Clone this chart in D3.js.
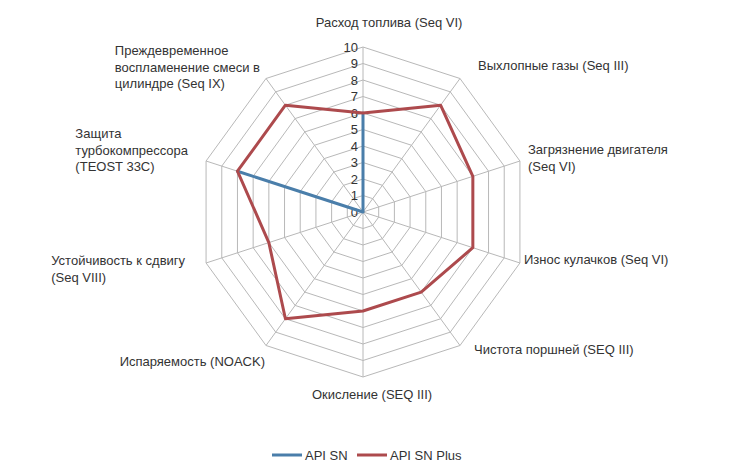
<!DOCTYPE html>
<html>
<head>
<meta charset="utf-8">
<script src="https://cdn.jsdelivr.net/npm/d3@7"></script>
<style>
  body { margin: 0; background: #fff; }
  svg { display: block; font-family: "Liberation Sans", Arial, sans-serif; }
</style>
</head>
<body>
<svg id="chart"></svg>
<script>
// axis labels, clockwise from top (one entry per text line)
const categories = [
  ["Расход топлива (Seq VI)"],
  ["Выхлопные газы (Seq III)"],
  ["Загрязнение двигателя", "(Seq VI)"],
  ["Износ кулачков (Seq VI)"],
  ["Чистота поршней (SEQ III)"],
  ["Окисление (SEQ III)"],
  ["Испаряемость (NOACK)"],
  ["Устойчивость к сдвигу", "(Seq VIII)"],
  ["Защита", "турбокомпрессора", "(TEOST 33C)"],
  ["Преждевременное", "воспламенение смеси в", "цилиндре (Seq IX)"]
];
const seriesNames = ["API SN", "API SN Plus"];
const apiSN = [6, 0, 0, 0, 0, 0, 0, 0, 8, 0];
const apiSNPlus = [6, 8, 7, 7, 6, 6, 8, 6, 8, 8];
const ticks = [0, 1, 2, 3, 4, 5, 6, 7, 8, 9, 10];

// label placement relative to the outer vertex: [dx, dy, align]
const labelLayout = [
  [26, -25, "middle"], [18, -13, "start"], [8, -3, "start"], [4, -4, "start"],
  [14, 4, "start"], [9, 17, "middle"], [-1, 16, "end"], [-21, 6, "end"],
  [-18, -11, "end"], [-6, -11.5, "end"]
];

const width = 745, height = 469;
const cx = 363, cy = 212, R = 165;
const colors = ["#4a7eaa", "#ad4a4d"];
const gridColor = "#b8b8b8";
const textColor = "#333";
const fontSize = 13;

function main() {
  const svg = d3.select("#chart").attr("width", width).attr("height", height);
  const r = d3.scaleLinear().domain([0, 10]).range([0, R]);
  const angle = d3.scaleLinear().domain([0, categories.length]).range([0, 2 * Math.PI]);
  const pt = (i, v) => [cx + r(v) * Math.sin(angle(i)), cy - r(v) * Math.cos(angle(i))];

  drawGrid(svg, r, pt);
  drawTicks(svg, r);
  drawSeries(svg, pt);
  drawLabels(svg, pt);
  drawLegend(svg);
}

function drawGrid(svg, r, pt) {
  const g = svg.append("g").attr("fill", "none").attr("stroke", gridColor).attr("stroke-width", 1);
  ticks.slice(1).forEach(t => {
    g.append("path")
      .attr("d", d3.line()(categories.map((c, i) => pt(i, t))) + "Z");
  });
  categories.forEach((c, i) => {
    const [x, y] = pt(i, 10);
    g.append("line").attr("x1", cx).attr("y1", cy).attr("x2", x).attr("y2", y);
  });
}

function drawTicks(svg, r) {
  svg.append("g")
    .selectAll("text")
    .data(ticks)
    .join("text")
    .attr("x", cx - 5)
    .attr("y", d => cy - r(d))
    .attr("dy", "0.35em")
    .attr("text-anchor", "end")
    .attr("font-size", fontSize)
    .attr("fill", textColor)
    .text(d => d);
}

function drawSeries(svg, pt) {
  const line = d3.line().curve(d3.curveLinearClosed);
  [apiSN, apiSNPlus].forEach((vals, k) => {
    svg.append("path")
      .attr("d", line(vals.map((v, i) => pt(i, v))))
      .attr("fill", "none")
      .attr("stroke", colors[k])
      .attr("stroke-width", 3)
      .attr("stroke-linejoin", "round");
  });
}

function drawLabels(svg, pt) {
  const lh = 16.5;
  categories.forEach((lines, i) => {
    const [vx, vy] = pt(i, 10);
    const [dx, dy, align] = labelLayout[i];
    const t = svg.append("text")
      .attr("font-size", fontSize)
      .attr("fill", textColor)
      .attr("text-anchor", align === "middle" ? "middle" : "start");
    const y0 = vy + dy - (lines.length - 1) * lh / 2;
    lines.forEach((s, j) => {
      t.append("tspan").attr("y", y0 + j * lh).attr("dy", "0.35em").text(s);
    });
    let x = vx + dx;
    if (align === "end") {
      const w = d3.max(t.selectAll("tspan").nodes(), n => n.getComputedTextLength());
      x = vx + dx - w;
    }
    t.selectAll("tspan").attr("x", x);
  });
}

function drawLegend(svg) {
  const items = [[272, seriesNames[0]], [357, seriesNames[1]]];
  const y = 455;
  items.forEach(([x, name], k) => {
    svg.append("line")
      .attr("x1", x).attr("x2", x + 30).attr("y1", y).attr("y2", y)
      .attr("stroke", colors[k]).attr("stroke-width", 3);
    svg.append("text")
      .attr("x", x + 33).attr("y", y).attr("dy", "0.35em")
      .attr("font-size", fontSize).attr("fill", textColor)
      .text(name);
  });
}

main();
</script>
</body>
</html>
